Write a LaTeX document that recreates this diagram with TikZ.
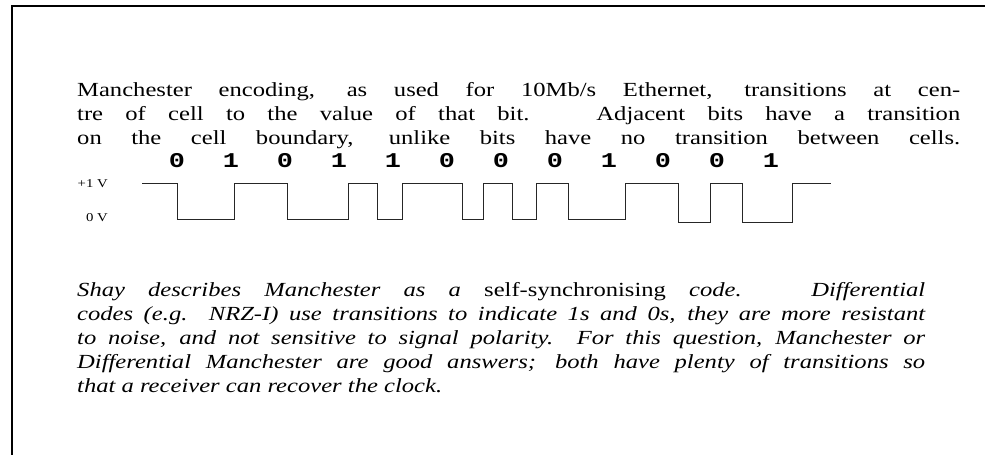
\documentclass[tikz,border=0pt]{standalone}
\usepackage{fontspec}
\setmainfont{Liberation Serif}[FakeStretch=1.23]
\newfontfamily\bitfont{Liberation Mono}[FakeStretch=1.28]
\tikzset{
  para/.style={anchor=base west, inner sep=0pt, font=\fontsize{20}{24}\selectfont},
  bitlabel/.style={anchor=center, inner sep=0pt, font=\bitfont\bfseries\fontsize{21}{24}\selectfont},
  volt/.style={anchor=base east, inner sep=0pt, font=\fontsize{12}{14}\selectfont},
  frame/.style={line width=2pt},
  wave/.style={line width=1pt, black!85}
}
\begin{document}
\begin{tikzpicture}[x=1pt,y=-1pt]
\useasboundingbox (0,0) rectangle (985,455);
\draw[frame] (985,6) -- (11.5,6) -- (11.5,455);
% first paragraph
\node[para] (p1) at (77,96) {\makebox[883pt][s]{Manchester encoding, as used for 10Mb/s Ethernet, transitions at cen-}};
\node[para] (p2) at (77,120) {\makebox[883pt][s]{tre of cell to the value of that bit.\ \ \ Adjacent bits have a transition}};
\node[para] (p3) at (77,144) {\makebox[883pt][s]{on the cell boundary, unlike bits have no transition between cells.}};
% bits
\foreach \b [count=\i from 0] in {0,1,0,1,1,0,0,0,1,0,0,1}{
  \node[bitlabel] (b\i) at (177+54*\i,161) {\b};
}
% voltage labels
\node[volt] (hi) at (108,187) {+1 V};
\node[volt] (lo) at (108,221) {0 V};
% waveform
\draw[wave] (142,183) -- (177,183) -- (177,219) -- (234,219) -- (234,183) -- (287,183) -- (287,219) -- (348,219) -- (348,183) -- (377,183) -- (377,219) -- (402,219) -- (402,183) -- (462,183) -- (462,219) -- (483,219) -- (483,183) -- (512,183) -- (512,219) -- (536,219) -- (536,183) -- (568,183) -- (568,219) -- (625,219) -- (625,183) -- (678,183) -- (678,222) -- (710,222) -- (710,183) -- (742,183) -- (742,222) -- (792,222) -- (792,183) -- (831,183);
% second paragraph
\node[para] (q1) at (77,296) {\makebox[848pt][s]{\itshape Shay describes Manchester as a \upshape self-synchronising \itshape code.\ \ \ Differential}};
\node[para] (q2) at (77,320) {\makebox[848pt][s]{\itshape codes (e.g. NRZ-I) use transitions to indicate 1s and 0s, they are more resistant}};
\node[para] (q3) at (77,344) {\makebox[848pt][s]{\itshape to noise, and not sensitive to signal polarity.\ \ For this question, Manchester or}};
\node[para] (q4) at (77,368) {\makebox[848pt][s]{\itshape Differential Manchester are good answers; both have plenty of transitions so}};
\node[para] (q5) at (77,392) {\itshape that a receiver can recover the clock.};
\end{tikzpicture}
\end{document}
